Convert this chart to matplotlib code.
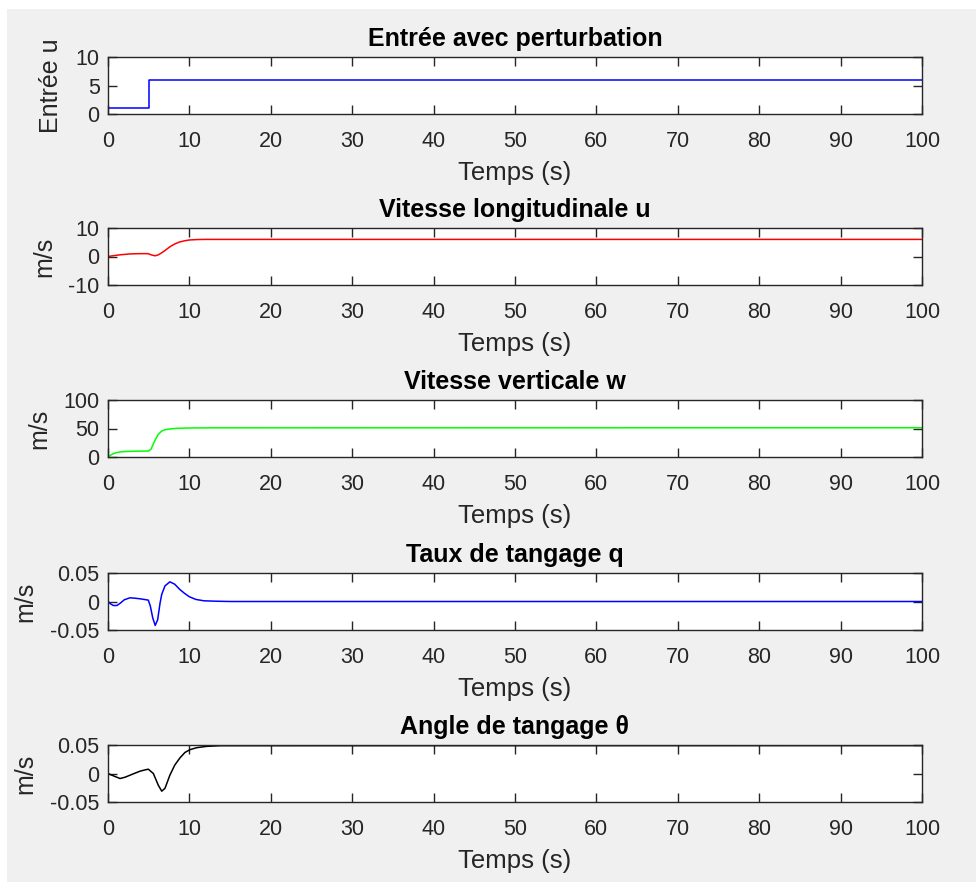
import matplotlib
matplotlib.use("Agg")
import matplotlib.pyplot as plt
from matplotlib.patches import Rectangle

plt.rcParams['font.family'] = ['Liberation Sans', 'DejaVu Sans']
plt.rcParams['axes.unicode_minus'] = False

# input with disturbance: step from 1 to 6 at t = 5 s
t_input = [0, 5, 5, 100]
u_input = [1, 1, 6, 6]

# longitudinal speed u
t_speed_u = [0, 0.6, 1.5, 2.7, 3.9, 4.9, 5.4, 5.8, 6.2, 6.6, 7.0, 7.6, 8.2, 8.8,
             9.4, 10.0, 11.0, 12.0, 14.0, 100]
speed_u = [0.0, 0.25, 0.6, 0.9, 1.0, 1.0, 0.5, 0.25, 0.6, 1.3, 2.1, 3.4, 4.4, 5.1,
           5.5, 5.8, 5.95, 6.0, 6.0, 6.0]

# vertical speed w
t_speed_w = [0, 0.3, 0.6, 1.0, 1.5, 2.0, 3.0, 4.0, 5.0, 5.3, 5.6, 5.9, 6.2, 6.6,
             7.0, 7.6, 8.5, 10.0, 13.0, 100]
speed_w = [0.0, 3.0, 5.5, 7.5, 8.8, 9.5, 10.0, 10.3, 10.5, 14.0, 24.0, 33.0, 40.0, 45.5,
           47.8, 49.2, 50.3, 50.9, 51.2, 51.3]

# pitch rate q
t_pitch_rate = [0, 0.3, 0.65, 1.1, 1.5, 2.0, 2.7, 3.3, 3.9, 4.5, 4.95, 5.2, 5.5, 5.8,
                6.1, 6.4, 6.6, 7.0, 7.6, 8.2, 8.8, 9.4, 10.0, 10.8, 11.8, 13.3, 15.0, 100]
pitch_rate = [0.0, -0.004, -0.007, -0.007, -0.003, 0.003, 0.0065, 0.0058, 0.0048, 0.0035,
              0.0024, -0.008, -0.029, -0.042, -0.032, -0.0024, 0.0125, 0.0274, 0.0345,
              0.0303, 0.0214, 0.0143, 0.0083, 0.0036, 0.0012, 0.0005, 0.0, 0.0]

# pitch angle theta
t_pitch_angle = [0, 0.65, 1.47, 2.1, 2.7, 3.3, 3.93, 4.5, 4.95, 5.57, 6.18, 6.6, 7.0,
                 7.6, 8.2, 8.85, 9.46, 10.07, 10.9, 12.1, 13.8, 100]
pitch_angle = [0.0, -0.004, -0.0088, -0.0065, -0.003, 0.0005, 0.004, 0.0062, 0.0076, 0.0,
               -0.0206, -0.031, -0.026, -0.003, 0.0147, 0.0276, 0.037, 0.0418, 0.0453,
               0.0476, 0.0488, 0.049]

panels = [
    (t_input, u_input, '#0000ff', 'Entrée avec perturbation', 'Entrée u', (0, 10), [0, 5, 10]),
    (t_speed_u, speed_u, '#ff0000', 'Vitesse longitudinale u', 'm/s', (-10, 10), [-10, 0, 10]),
    (t_speed_w, speed_w, '#00ff00', 'Vitesse verticale w', 'm/s', (0, 100), [0, 50, 100]),
    (t_pitch_rate, pitch_rate, '#0000ff', 'Taux de tangage q', 'm/s', (-0.05, 0.05), [-0.05, 0, 0.05]),
    (t_pitch_angle, pitch_angle, '#000000', 'Angle de tangage θ', 'm/s', (-0.05, 0.05), [-0.05, 0, 0.05]),
]
x_ticks = list(range(0, 101, 10))
small_tick_text = {0.05: '0.05', -0.05: '-0.05', 0: '0'}

W, H = 976, 882
fig = plt.figure(figsize=(W / 100, H / 100), dpi=100, facecolor='white')
fig.add_artist(Rectangle((7 / W, 0), 1 - 7 / W, 1 - 9 / H, transform=fig.transFigure,
                         facecolor='#f0f0f0', edgecolor='none', zorder=-5))

edge = '#262626'
bottoms_px = [114, 285, 457, 630, 802]
left_px, right_px, height_px = 108, 922, 57

for (t, y, color, title, ylabel, ylim, yticks), bot in zip(panels, bottoms_px):
    ax = fig.add_axes([left_px / W, 1 - bot / H, (right_px - left_px) / W, height_px / H])
    ax.plot(t, y, color=color, linewidth=1.1)
    ax.set_xlim(0, 100)
    ax.set_ylim(*ylim)
    ax.set_xticks(x_ticks)
    ax.set_yticks(yticks)
    if isinstance(yticks[-1], float):
        ax.set_yticklabels([small_tick_text[v] for v in yticks])
    ax.tick_params(direction='in', length=6.5, width=1, colors=edge, labelsize=15.5,
                   top=True, right=True)
    ax.tick_params(axis='x', pad=12)
    ax.tick_params(axis='y', pad=6)
    for sp in ax.spines.values():
        sp.set_color(edge)
        sp.set_linewidth(1)
    ax.set_title(title, fontsize=18, fontweight='bold', color='black', pad=8)
    ax.set_xlabel('Temps (s)', fontsize=18.5, color=edge, labelpad=7)
    ax.set_ylabel(ylabel, fontsize=18, color=edge, labelpad=9)

fig.savefig('out.png', dpi=100, facecolor=fig.get_facecolor())
